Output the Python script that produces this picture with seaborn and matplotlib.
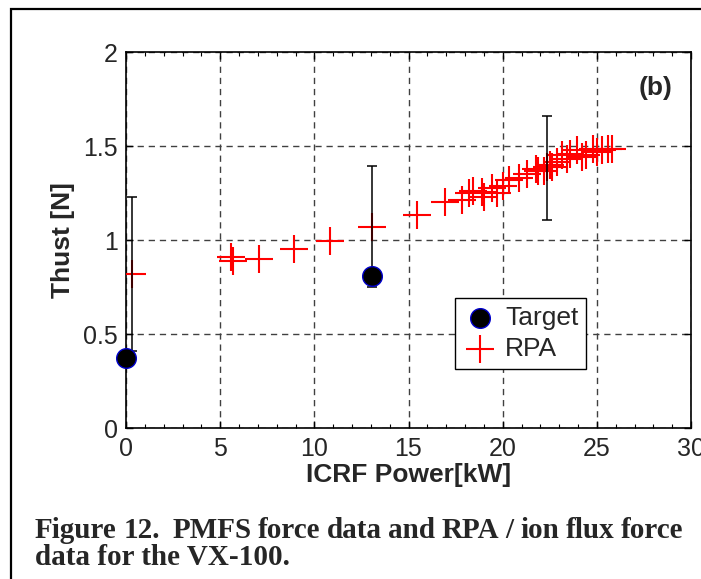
import numpy as np
import pandas as pd
import matplotlib
matplotlib.use('Agg')
import matplotlib.pyplot as plt
from matplotlib.patches import Rectangle
import seaborn as sns

# --- data ---
rpa_power = [0.3, 5.6, 5.7, 7.07, 8.9, 10.85, 13.07, 15.46, 16.95, 17.85,
             18.2, 18.45, 18.9, 19.0, 19.45, 19.7, 20.0, 20.34, 20.87, 21.3,
             21.76, 21.9, 22.2, 22.38, 22.5, 22.64, 22.9, 23.16, 23.4, 23.6,
             23.97, 24.2, 24.41, 24.77, 25.0, 25.3, 25.57, 25.83]
rpa_thrust = [0.82, 0.91, 0.89, 0.90, 0.954, 0.993, 1.07, 1.135, 1.203, 1.213,
              1.25, 1.26, 1.257, 1.23, 1.275, 1.25, 1.29, 1.32, 1.328, 1.354,
              1.38, 1.37, 1.37, 1.388, 1.40, 1.39, 1.416, 1.455, 1.43, 1.46,
              1.478, 1.44, 1.451, 1.487, 1.47, 1.478, 1.487, 1.487]

target_power = [0.0, 13.07]
target_thrust = [0.372, 0.812]

err_power = [0.3, 13.07, 22.34]
err_thrust = [0.82, 1.072, 1.382]
err_size = [0.41, 0.32, 0.276]

x_ticks = [0, 5, 10, 15, 20, 25, 30]
y_ticks = [0, 0.5, 1, 1.5, 2]
y_tick_labels = ['0', '0.5', '1', '1.5', '2']

caption_1 = "Figure 12.  PMFS force data and RPA / ion flux force"
caption_2 = "data for the VX-100."

rpa = pd.DataFrame({'power': rpa_power, 'thrust': rpa_thrust})
target = pd.DataFrame({'power': target_power, 'thrust': target_thrust})

sns.set_style('ticks')
plt.rcParams['font.family'] = ['Liberation Sans', 'DejaVu Sans']

W, H = 701, 579
fig = plt.figure(figsize=(W / 100, H / 100), dpi=100)
ax = fig.add_axes([126 / W, 1 - 428.3 / H, 565 / W, 376.3 / H])

# RPA crosses
sns.scatterplot(data=rpa, x='power', y='thrust', marker='+', s=400,
                color='#ff0000', linewidth=1.5, ax=ax, zorder=3, label='RPA')
# error bars on top of crosses
ax.errorbar(err_power, err_thrust, yerr=err_size, fmt='none', ecolor='black',
            elinewidth=1.1, capsize=3.5, capthick=1.1, zorder=4)
# target points (not clipped at the left spine)
sns.scatterplot(data=target, x='power', y='thrust', marker='o', s=200,
                color='black', edgecolor='#0000cc', linewidth=1, ax=ax,
                zorder=5, label='Target', clip_on=False)

ax.set_xlim(0, 30)
ax.set_ylim(0, 2)
ax.set_xticks(x_ticks)
ax.set_xticks(np.arange(0, 31, 1), minor=True)
ax.set_yticks(y_ticks)
ax.set_yticklabels(y_tick_labels)
ax.tick_params(which='both', direction='in', top=True, right=True,
               labelsize=18, pad=6, color='black')
ax.tick_params(which='major', length=5, width=1)
ax.tick_params(which='minor', length=3, width=0.8)
ax.tick_params(axis='y', which='minor', left=False, right=False)
for sp in ax.spines.values():
    sp.set_color('black')
    sp.set_linewidth(1.2)
ax.grid(True, which='major', color='#404040', linestyle=(0, (4.5, 3.5)),
        linewidth=1.0)

ax.set_xlabel('ICRF Power[kW]', fontsize=19, fontweight='bold')
ax.set_ylabel('Thust [N]', fontsize=19, fontweight='bold')
ax.xaxis.set_label_coords(0.5, -0.092)
ax.yaxis.set_label_coords(-0.09, 0.5)

ax.text(28.1, 1.81, '(b)', fontsize=19, fontweight='bold',
        ha='center', va='center')

handles, labels = ax.get_legend_handles_labels()
order = [labels.index('Target'), labels.index('RPA')]
leg = ax.legend([handles[i] for i in order], [labels[i] for i in order],
                loc='upper left', bbox_to_anchor=(0.582, 0.346),
                fontsize=19, frameon=True, fancybox=False, framealpha=1,
                edgecolor='black', handlelength=1.3, handletextpad=0.3,
                borderpad=0.3, labelspacing=0.25, borderaxespad=0)
leg.get_frame().set_linewidth(1.0)

# outer frame of the figure panel
fig.patches.append(Rectangle((11 / W, -0.1), 1.2, 0.1 + 1 - 9 / H,
                             transform=fig.transFigure, fill=False,
                             edgecolor='black', linewidth=1.6))


def justify(text, y_px, x0, x1, **kw):
    # place words so the line fills x0..x1 like a justified paragraph
    parts = text.split(' ')
    words, weights = [], []
    for p in parts:
        if p == '':
            weights[-1] += 1
        else:
            words.append(p)
            weights.append(1)
    weights[-1] = 0
    fig.canvas.draw()
    renderer = fig.canvas.get_renderer()
    arts = [fig.text(0, 1 - y_px / H, w, va='baseline', **kw) for w in words]
    widths = [a.get_window_extent(renderer).width for a in arts]
    gap = (x1 - x0 - sum(widths)) / sum(weights)
    x = x0
    for a, w, wt in zip(arts, widths, weights):
        a.set_x(x / W)
        x += w + gap * wt


cap_kw = dict(fontsize=21, fontweight='bold', family='Liberation Serif')
justify(caption_1, 538, 35, 683, **cap_kw)
fig.text(35 / W, 1 - 565 / H, caption_2, va='baseline', **cap_kw)

fig.savefig('out.png', dpi=100)
